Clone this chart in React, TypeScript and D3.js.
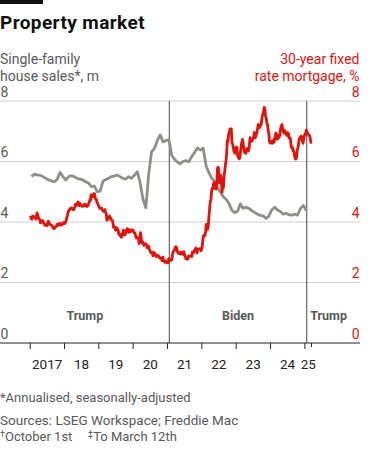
import React from 'react';
import * as d3 from 'd3';

// 30-year fixed mortgage rate, %, weekly readings grouped by month (Freddie Mac)
const rate2017 = [[4.20,4.12,4.09,4.19],[4.19,4.17,4.15,4.16],[4.10,4.21,4.30,4.23,4.14],[4.10,4.08,3.97,4.03],[4.02,4.05,4.02,3.95],[3.94,3.89,3.91,3.90,3.88],[3.96,4.03,3.96,3.92],[3.93,3.90,3.89,3.86,3.82],[3.78,3.78,3.83,3.85],[3.85,3.91,3.88,3.94],[3.94,3.90,3.95,3.92,3.90],[3.94,3.93,3.94,3.99]];
const rate2018 = [[3.95,3.99,4.04,4.15],[4.22,4.32,4.38,4.40],[4.43,4.46,4.44,4.45,4.44],[4.40,4.42,4.47,4.58],[4.55,4.55,4.61,4.66,4.56],[4.54,4.62,4.57,4.55],[4.52,4.53,4.52,4.54],[4.59,4.59,4.53,4.51,4.52],[4.54,4.60,4.65,4.72],[4.71,4.90,4.85,4.86],[4.83,4.94,4.94,4.81,4.75],[4.75,4.63,4.62,4.55]];
const rate2019 = [[4.51,4.45,4.45,4.46,4.46],[4.41,4.37,4.35,4.35],[4.41,4.31,4.28,4.06],[4.08,4.12,4.17,4.20],[4.14,4.10,4.07,4.06,3.99],[3.82,3.82,3.84,3.73],[3.75,3.81,3.75,3.75],[3.60,3.60,3.55,3.58,3.49],[3.56,3.64,3.73,3.65],[3.57,3.60,3.69,3.75,3.78],[3.69,3.66,3.75,3.68],[3.68,3.73,3.73,3.74]];
const rate2020 = [[3.72,3.64,3.65,3.60,3.51],[3.47,3.47,3.49,3.45],[3.29,3.36,3.65,3.50],[3.33,3.31,3.33,3.23],[3.26,3.28,3.24,3.15],[3.18,3.21,3.13,3.07],[3.03,2.98,2.98,2.99,2.88],[2.96,2.99,2.91,2.93],[2.86,2.87,2.90,2.88],[2.87,2.81,2.80,2.81,2.78],[2.72,2.84,2.72,2.71],[2.67,2.71,2.67,2.66]];
const rate2021 = [[2.65,2.79,2.77,2.73],[2.73,2.73,2.81,2.97],[3.02,3.05,3.09,3.17],[3.18,3.13,3.04,2.97,2.98],[2.96,2.94,3.00,2.95],[2.99,2.96,2.93,3.02],[2.90,2.88,2.78,2.80,2.80],[2.77,2.87,2.86,2.87],[2.87,2.88,2.86,3.01],[2.99,3.05,3.09,3.14],[3.09,2.98,3.10,3.10],[3.11,3.10,3.12,3.05,3.11]];
const rate2022 = [[3.22,3.45,3.56,3.55],[3.55,3.69,3.92,3.89],[3.76,3.85,4.16,4.42,4.67],[4.72,5.00,5.11,5.10],[5.27,5.30,5.25,5.10],[5.09,5.23,5.78,5.81,5.70],[5.30,5.51,5.54,5.30],[4.99,5.22,5.13,5.55],[5.66,5.89,6.02,6.29,6.70],[6.66,6.92,6.94,7.08],[6.95,7.08,6.61,6.58],[6.49,6.33,6.31,6.27,6.42]];
const rate2023 = [[6.48,6.33,6.15,6.13],[6.09,6.12,6.32,6.50],[6.65,6.73,6.60,6.42,6.32],[6.28,6.27,6.39,6.43],[6.39,6.35,6.39,6.57,6.79],[6.71,6.69,6.67,6.71],[6.81,6.96,6.78,6.81],[6.90,6.96,7.09,7.23,7.18],[7.12,7.18,7.19,7.31],[7.49,7.57,7.63,7.79],[7.76,7.50,7.44,7.29,7.22],[7.03,6.95,6.67,6.61]];
const rate2024 = [[6.62,6.66,6.60,6.69],[6.63,6.64,6.77,6.90,6.94],[6.88,6.74,6.74,6.87,6.79],[6.82,6.88,7.10,7.17],[7.22,7.09,7.02,6.94,7.03],[6.99,6.95,6.87,6.86],[6.95,6.89,6.77,6.78],[6.73,6.47,6.49,6.46,6.35],[6.35,6.20,6.09,6.08],[6.12,6.32,6.44,6.54,6.72],[6.79,6.78,6.84,6.81],[6.69,6.60,6.72,6.85]];
const rate2025 = [[6.91,6.93,7.04,6.96,6.95],[6.89,6.87,6.85,6.76],[6.63,6.65]];
const rateYears = [2017, 2018, 2019, 2020, 2021, 2022, 2023, 2024, 2025];

// Single-family house sales, m, annualised, monthly
const sales2017 = [5.50,5.59,5.55,5.55,5.50,5.45,5.39,5.36,5.33,5.41,5.64,5.50];
const sales2018 = [5.39,5.50,5.53,5.50,5.44,5.42,5.39,5.33,5.28,5.17,5.19,5.00];
const sales2019 = [5.02,5.35,5.40,5.45,5.50,5.52,5.55,5.50,5.44,5.42,5.50,5.44];
const sales2020 = [5.55,5.66,5.30,4.75,4.47,5.60,6.32,6.44,6.70,6.88,6.65,6.69];
const sales2021 = [6.73,6.20,6.08,5.98,5.92,6.00,6.03,5.99,6.16,6.30,6.45,6.38];
const sales2022 = [6.44,5.85,5.65,5.45,5.35,5.15,5.00,4.84,4.75,4.62,4.40,4.31];
const sales2023 = [4.35,4.60,4.45,4.49,4.45,4.38,4.32,4.26,4.22,4.20,4.12,4.20];
const sales2024 = [4.40,4.49,4.40,4.35,4.26,4.29,4.24,4.23,4.26,4.23,4.45,4.55];
const sales2025 = [4.38];

const yTicks = [0, 2, 4, 6, 8];
const xTickYears = [2017, 2018, 2019, 2020, 2021, 2022, 2023, 2024, 2025];
const xTickLabels = ['2017', '18', '19', '20', '21', '22', '23', '24', '25'];
const eraNames = ['Trump', 'Biden', 'Trump'];
const inaugurations = ['2021-01-20', '2025-01-20'];
const dataEnd = '2025-03-12';

const RED = '#e3120b';
const GREY_LINE = '#8f8f8a';
const TEXT_GREY = '#595959';
const FONT = 'Roboto, "Liberation Sans", sans-serif';

export default function App() {
  const W = 375, H = 452;
  const x = d3.scaleUtc()
    .domain([Date.UTC(2017, 0, 1), Date.UTC(2025, 0, 1)])
    .range([30.2, 304.9]);
  const y = d3.scaleLinear().domain([0, 8]).range([343, 101]);

  const rateGroups = [rate2017, rate2018, rate2019, rate2020, rate2021, rate2022, rate2023, rate2024, rate2025];
  const ratePts: [Date, number][] = [];
  rateGroups.forEach((months, yi) => {
    const yr = rateYears[yi];
    months.forEach((vals, mi) => {
      const start = new Date(Date.UTC(yr, mi, 1));
      const end = new Date(Date.UTC(yr, mi + 1, 1));
      const thu = d3.utcThursdays(start, end);
      vals.forEach((v, k) => {
        let d: Date;
        if (vals.length <= thu.length) d = thu[k];
        else d = new Date(+start + ((k + 0.5) / vals.length) * (+end - +start));
        ratePts.push([d, v]);
      });
    });
  });

  const salesGroups = [sales2017, sales2018, sales2019, sales2020, sales2021, sales2022, sales2023, sales2024, sales2025];
  const salesPts: [Date, number][] = [];
  salesGroups.forEach((vals, yi) => {
    vals.forEach((v, mi) => salesPts.push([new Date(Date.UTC(2017 + yi, mi, 15)), v]));
  });

  const line = d3.line<[Date, number]>().x(d => x(d[0])).y(d => y(d[1])).curve(d3.curveLinear);

  const parse = (s: string) => new Date(s + 'T00:00:00Z');
  const eraPos = [parse('2018-08-05'), parse('2023-01-20'), parse('2025-09-10')];
  const labelPos = xTickYears.map((yr, i) =>
    i < xTickYears.length - 1 ? new Date(Date.UTC(yr, 6, 1)) : parse('2025-02-06'));

  return (
    <div style={{ position: 'absolute', left: 0, top: 0, width: W, height: H, background: '#fff' }}>
      <svg width={W} height={H} style={{ display: 'block' }} fontFamily={FONT}>
        <rect x={0} y={0} width={43} height={4} fill="#111" />
        <text x={0} y={29} fontSize={19} fontWeight={700} fill="#111" letterSpacing={0.4}>Property market</text>

        <text x={0} y={64} fontSize={14} fill={TEXT_GREY}>Single-family</text>
        <text x={0} y={81} fontSize={14} fill={TEXT_GREY}>house sales*, m</text>
        <text x={359.5} y={64} fontSize={14} fill={RED} textAnchor="end">30-year fixed</text>
        <text x={359.5} y={81} fontSize={14} fill={RED} textAnchor="end">rate mortgage, %</text>

        {yTicks.map(t => (
          <g key={t}>
            {t > 0 && <line x1={0} x2={360} y1={y(t)} y2={y(t)} stroke="#cfcfcf" strokeWidth={1} />}
            <text x={0.5} y={y(t) - 4.5} fontSize={14} fill={TEXT_GREY}>{t}</text>
            <text x={359.5} y={y(t) - 4.5} fontSize={14} fill={RED} textAnchor="end">{t}</text>
          </g>
        ))}

        {inaugurations.map(s => (
          <line key={s} x1={x(parse(s))} x2={x(parse(s))} y1={y(8)} y2={y(0)} stroke="#666" strokeWidth={1.2} />
        ))}

        {eraNames.map((n, i) => (
          <text key={i} x={x(eraPos[i])} y={320} fontSize={12.5} fontWeight={700} fill={TEXT_GREY} textAnchor="middle">{n}</text>
        ))}

        <path d={line(salesPts) || ''} fill="none" stroke={GREY_LINE} strokeWidth={2.8} strokeLinejoin="round" />
        <path d={line(ratePts) || ''} fill="none" stroke={RED} strokeWidth={2.8} strokeLinejoin="round" />

        <line x1={0} x2={360} y1={y(0)} y2={y(0)} stroke="#222" strokeWidth={1} />
        {xTickYears.map(yr => (
          <line key={yr} x1={x(new Date(Date.UTC(yr, 0, 1)))} x2={x(new Date(Date.UTC(yr, 0, 1)))} y1={y(0)} y2={y(0) + 6} stroke="#222" strokeWidth={1} />
        ))}
        <line x1={x(parse(dataEnd))} x2={x(parse(dataEnd))} y1={y(0)} y2={y(0) + 4} stroke="#222" strokeWidth={1} />
        {xTickLabels.map((l, i) => (
          <text key={l} x={x(labelPos[i])} y={369} fontSize={13.5} fill="#222" textAnchor="middle">{l}</text>
        ))}

        <text x={0} y={402} fontSize={13} fill={TEXT_GREY}>*Annualised, seasonally-adjusted</text>
        <text x={0} y={425} fontSize={13.5} fill={TEXT_GREY}>Sources: LSEG Workspace; Freddie Mac</text>
        <text x={0} y={441} fontSize={13} fill={TEXT_GREY}>
          <tspan fontSize={9} dy={-4}>†</tspan><tspan dy={4}>October 1st</tspan>
          <tspan x={88} fontSize={9} dy={-4}>‡</tspan><tspan dy={4}>To March 12th</tspan>
        </text>
      </svg>
    </div>
  );
}
